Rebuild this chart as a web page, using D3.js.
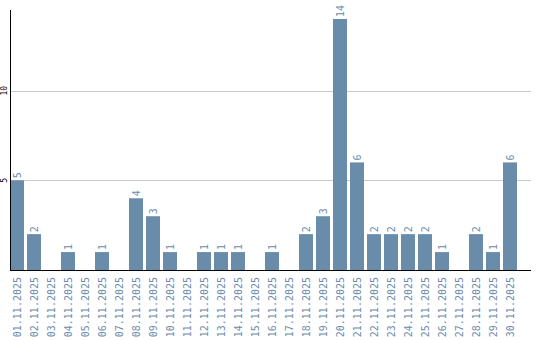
<!DOCTYPE html>
<html>
<head>
<meta charset="utf-8">
<script src="https://cdn.jsdelivr.net/npm/d3@7"></script>
<style>
  body { margin: 0; background: #fff; }
  text { font-family: "DejaVu Sans Mono", monospace; }
</style>
</head>
<body>
<div id="chart"></div>
<script>
// daily counts, November 2025
var days = ["01.11.2025","02.11.2025","03.11.2025","04.11.2025","05.11.2025","06.11.2025",
  "07.11.2025","08.11.2025","09.11.2025","10.11.2025","11.11.2025","12.11.2025","13.11.2025",
  "14.11.2025","15.11.2025","16.11.2025","17.11.2025","18.11.2025","19.11.2025","20.11.2025",
  "21.11.2025","22.11.2025","23.11.2025","24.11.2025","25.11.2025","26.11.2025","27.11.2025",
  "28.11.2025","29.11.2025","30.11.2025"];
var counts = [5,2,0,1,0,1,0,4,3,1,0,1,1,1,0,1,0,2,3,14,6,2,2,2,2,1,0,2,1,6];
var yTicks = [5, 10];

var margin = { left: 10, top: 10, bottom: 270, right: 531 };
var barColor = "#6a8cab", labelColor = "#6b8cad";

var svg = d3.select("#chart").append("svg")
    .attr("width", 540)
    .attr("height", 340);

var x = d3.scaleBand()
    .domain(days)
    .range([margin.left, margin.left + 17 * 30 - 3])
    .paddingInner(3 / 17)
    .paddingOuter(0);

var y = d3.scaleLinear()
    .domain([0, 14.5])
    .range([margin.bottom, margin.top]);

// gridlines
svg.selectAll(".grid").data(yTicks).enter()
  .append("line")
    .attr("class", "grid")
    .attr("x1", margin.left).attr("x2", margin.right)
    .attr("y1", function(d) { return Math.round(y(d)) + 0.5; })
    .attr("y2", function(d) { return Math.round(y(d)) + 0.5; })
    .attr("stroke", "#c8c8c8");

// y tick labels (rotated)
svg.selectAll(".ytick").data(yTicks).enter()
  .append("text")
    .attr("class", "ytick")
    .attr("transform", function(d) { return "translate(7," + y(d) + ") rotate(-90)"; })
    .attr("text-anchor", "middle")
    .attr("font-size", 8)
    .attr("fill", "#000")
    .text(function(d) { return d; });

// bars
svg.selectAll(".bar").data(counts).enter()
  .append("rect")
    .attr("class", "bar")
    .attr("x", function(d, i) { return x(days[i]); })
    .attr("y", function(d) { return y(d); })
    .attr("width", x.bandwidth())
    .attr("height", function(d) { return margin.bottom - y(d); })
    .attr("fill", barColor);

// value labels
svg.selectAll(".val").data(counts).enter()
  .append("text")
    .attr("class", "val")
    .attr("transform", function(d, i) {
      return "translate(" + (x(days[i]) + x.bandwidth() / 2 + 3.5) + "," + (y(d) - 2) + ") rotate(-90)";
    })
    .attr("font-size", 10)
    .attr("fill", labelColor)
    .text(function(d) { return d > 0 ? d : ""; });

// axis lines
svg.append("line")
    .attr("x1", margin.left + 0.5).attr("x2", margin.left + 0.5)
    .attr("y1", margin.top).attr("y2", margin.bottom)
    .attr("stroke", "#000");
svg.append("line")
    .attr("x1", margin.left).attr("x2", margin.right)
    .attr("y1", margin.bottom + 0.5).attr("y2", margin.bottom + 0.5)
    .attr("stroke", "#000");

// x labels (rotated)
svg.selectAll(".xlab").data(days).enter()
  .append("text")
    .attr("class", "xlab")
    .attr("transform", function(d) {
      return "translate(" + (x(d) + x.bandwidth() / 2 + 3.5) + "," + (margin.bottom + 7) + ") rotate(-90)";
    })
    .attr("text-anchor", "end")
    .attr("font-size", 10)
    .attr("fill", labelColor)
    .text(function(d) { return d; });
</script>
</body>
</html>
